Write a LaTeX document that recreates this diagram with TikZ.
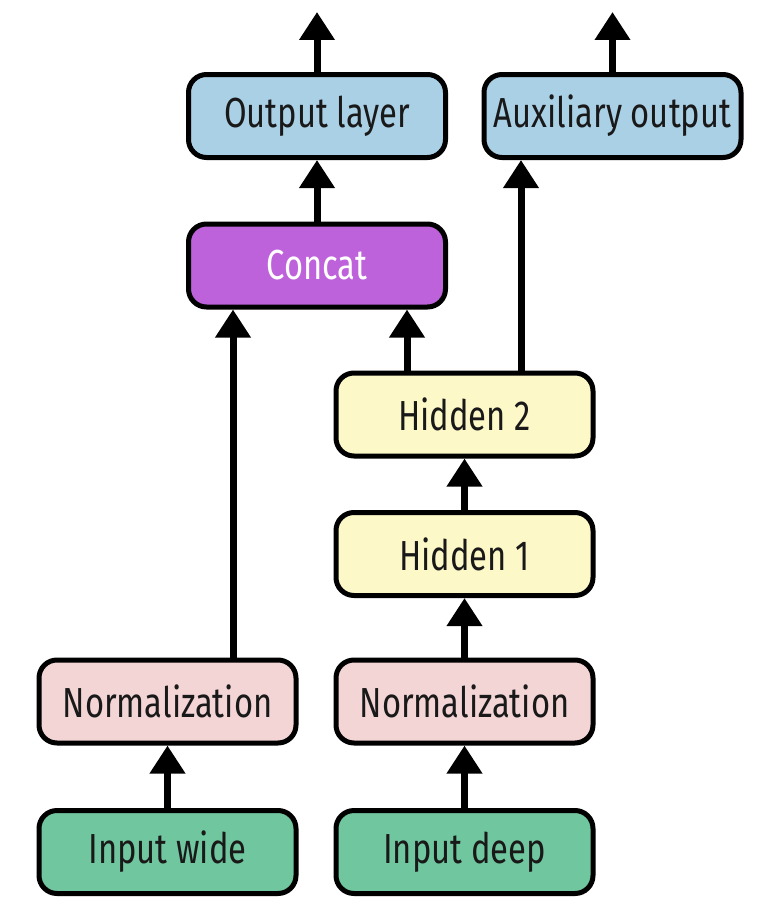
\documentclass[tikz,border=0pt]{standalone}
\usepackage{fontspec}
\setmainfont[FakeStretch=0.78]{Fira Sans}
\usetikzlibrary{arrows.meta,positioning}
\definecolor{outblue}{RGB}{170,208,230}
\definecolor{catpurple}{RGB}{190,98,220}
\definecolor{hidyellow}{RGB}{253,248,200}
\definecolor{normpink}{RGB}{243,213,213}
\definecolor{ingreen}{RGB}{112,198,158}
\tikzset{
  layer/.style={draw=black, line width=5pt, rounded corners=18pt,
    minimum width=257pt, minimum height=83pt, inner sep=0pt,
    font=\fontsize{42}{44}\selectfont, text=black!90},
  flow/.style={line width=7pt, -{Triangle[width=34pt,length=28pt]}}
}
\begin{document}
\begin{tikzpicture}[x=1pt,y=-1pt]
\useasboundingbox (0,0) rectangle (782,907);
\node[layer, fill=outblue] (out) at (317,116) {Output layer};
\node[layer, fill=outblue] (aux) at (612.5,116) {Auxiliary output};
\node[layer, fill=catpurple, text=white] (cat) at (317,265.5) {Concat};
\node[layer, fill=hidyellow] (h2) at (464.5,414.5) {Hidden 2};
\node[layer, fill=hidyellow] (h1) at (464.5,554) {Hidden 1};
\node[layer, fill=normpink] (nl) at (167.5,701.5) {Normalization};
\node[layer, fill=normpink] (nr) at (464.5,701.5) {Normalization};
\node[layer, fill=ingreen] (iw) at (167.5,852) {Input wide};
\node[layer, fill=ingreen] (id) at (464.5,852) {Input deep};
\coordinate (outtop) at (317,12);
\coordinate (auxtop) at (612.5,12);
\draw[flow] (out.north) -- (outtop);
\draw[flow] (aux.north) -- (auxtop);
\draw[flow] (cat.north) -- (out.south);
\draw[flow] ([xshift=65.5pt]nl.north) -- ([xshift=65.5pt]nl.north |- cat.south);
\draw[flow] ([xshift=-57.5pt]h2.north) -- ([xshift=-57.5pt]h2.north |- cat.south);
\draw[flow] ([xshift=56.5pt]h2.north) -- ([xshift=56.5pt]h2.north |- aux.south);
\draw[flow] (h1.north) -- (h2.south);
\draw[flow] (nr.north) -- (h1.south);
\draw[flow] (id.north) -- (nr.south);
\draw[flow] (iw.north) -- (nl.south);
\end{tikzpicture}
\end{document}
